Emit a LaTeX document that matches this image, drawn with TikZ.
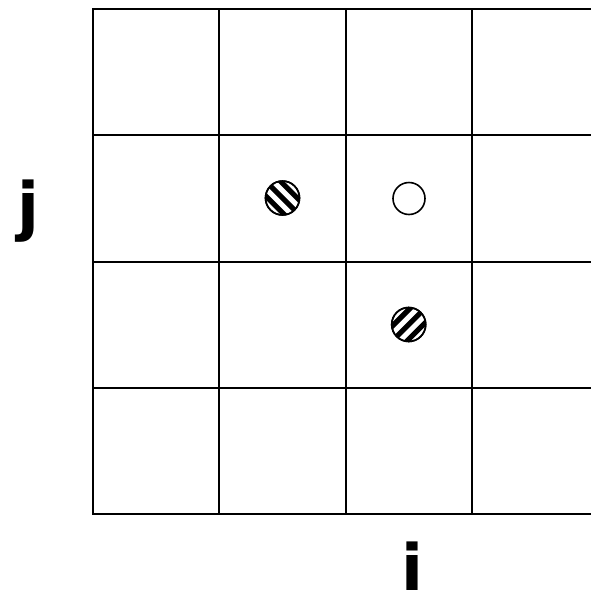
\documentclass[tikz,border=0pt]{standalone}
\usepackage{fontspec}
\usetikzlibrary{calc}
\newfontfamily\labelfont{DejaVu Sans}[BoldFont={DejaVu Sans Bold}]
\begin{document}
\begin{tikzpicture}[x=1pt,y=-1pt,
  gridline/.style={line width=2pt,line cap=rect},
  axislabel/.style={font=\labelfont\bfseries\fontsize{64}{64}\selectfont,inner sep=0pt,anchor=base},
  dotshape/.style={circle,draw,line width=1.6pt,minimum size=32pt,inner sep=0pt}]
\useasboundingbox (0,0) rectangle (591,595);
% grid
\foreach \x in {93,219.3,345.5,471.8,598} \draw[gridline] (\x,9) -- (\x,514);
\foreach \y in {9,135.3,261.5,387.8,514} \draw[gridline] (93,\y) -- (598,\y);
% hatched circle 1 (stripes upper-left to lower-right)
\node[dotshape,minimum size=34pt] (h1) at (282.5,198) {};
\begin{scope}
  \clip (h1.center) circle (17pt);
  \foreach \k in {-3,...,3}
    \draw[line width=5.2pt] ($(h1.center)+(\k*7.4,-\k*7.4)+(-30,-30)$) -- ($(h1.center)+(\k*7.4,-\k*7.4)+(30,30)$);
\end{scope}
\node[dotshape,minimum size=34pt] at (h1.center) {};
% empty circle
\node[dotshape] (e1) at (409,198.5) {};
% hatched circle 2 (stripes lower-left to upper-right)
\node[dotshape,minimum size=34pt] (h2) at (408.7,324.5) {};
\begin{scope}
  \clip (h2.center) circle (17pt);
  \foreach \k in {-3,...,3}
    \draw[line width=5.2pt] ($(h2.center)+(\k*7.4,\k*7.4)+(-30,30)$) -- ($(h2.center)+(\k*7.4,\k*7.4)+(30,-30)$);
\end{scope}
\node[dotshape,minimum size=34pt] at (h2.center) {};
% labels
\node[axislabel] (lj) at (28,228) {j};
\node[axislabel] (li) at (412,590) {i};
\end{tikzpicture}
\end{document}
